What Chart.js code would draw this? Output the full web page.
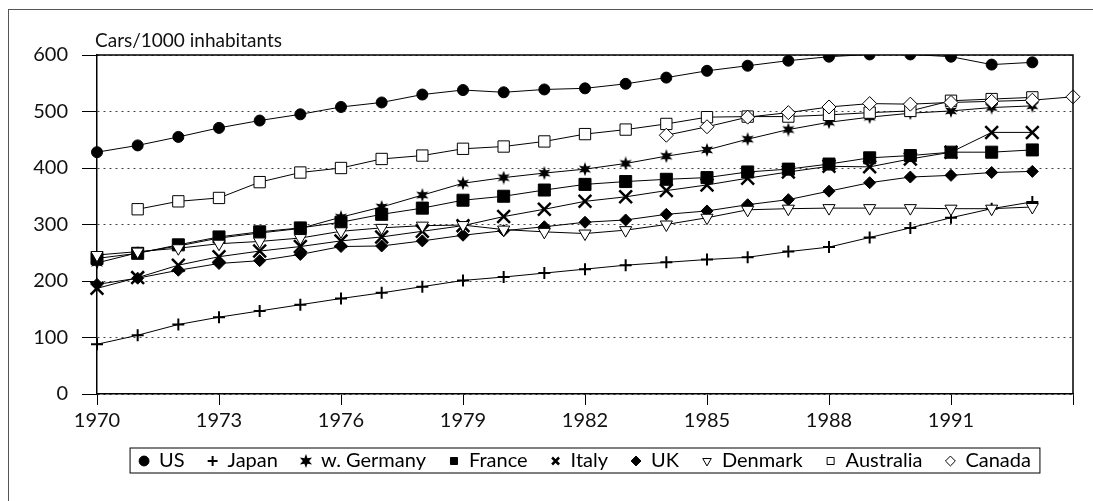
<!DOCTYPE html>
<html>
<head>
<meta charset="utf-8">
<script src="https://cdn.jsdelivr.net/npm/chart.js@4.4.0/dist/chart.umd.min.js"></script>
<style>
  html, body { margin: 0; padding: 0; background: #fff; overflow: hidden; }
  #frame {
    position: absolute; left: 8px; top: 9px; width: 2000px; height: 2000px;
    border-left: 1px solid #555; border-top: 1px solid #555;
  }
  #wrap { position: absolute; left: 0; top: 0; width: 1093px; height: 501px; }
</style>
</head>
<body>
<div id="frame"></div>
<div id="wrap"><canvas id="cars" width="1093" height="501"></canvas></div>
<script>
// cars per 1000 inhabitants, 1970 - 1994
const years = ['1970', '1971', '1972', '1973', '1974', '1975', '1976', '1977', '1978', '1979',
    '1980', '1981', '1982', '1983', '1984', '1985', '1986', '1987', '1988', '1989',
    '1990', '1991', '1992', '1993', '1994'];

const usCars = [428, 440, 455, 471, 484, 495, 508, 516, 530, 538, 534, 539, 541, 549, 560, 572, 581, 590, 597, 601, 601, 597, 583, 587, null];
const japanCars = [88, 104, 123, 136, 147, 158, 169, 179, 190, 201, 207, 214, 221, 228, 233, 238, 242, 252, 260, 277, 294, 312, 328, 340, null];
const germanyCars = [232, 250, 262, 276, 285, 293, 313, 331, 352, 373, 383, 391, 398, 408, 421, 432, 451, 468, 481, 490, 497, 501, 507, 510, null];
const franceCars = [240, 249, 264, 278, 287, 294, 304, 318, 329, 343, 350, 361, 371, 376, 380, 383, 393, 398, 407, 418, 422, 428, 428, 432, null];
const italyCars = [187, 206, 228, 243, 253, 261, 271, 278, 288, 298, 314, 327, 341, 349, 360, 370, 382, 393, 403, 402, 416, 428, 463, 463, null];
const ukCars = [194, 205, 219, 231, 236, 247, 261, 262, 271, 281, 289, 296, 304, 308, 318, 324, 335, 344, 359, 374, 384, 387, 392, 394, null];
const denmarkCars = [246, 252, 258, 266, 270, 276, 288, 294, 298, 299, 291, 287, 284, 290, 300, 312, 326, 328, 329, 329, 329, 328, 328, 331, null];
const australiaCars = [null, 327, 341, 347, 375, 392, 400, 416, 422, 434, 438, 447, 460, 468, 478, 490, 491, 491, 494, 498, 501, 519, 522, 525, null];
const canadaCars = [null, null, null, null, null, null, null, null, null, null, null, null, null, null,
    458, 473, 490, 498, 508, 514, 513, 516, 518, 520, 526];

const FONT = 'Lato, "Open Sans", sans-serif';

// filled six point star for w. Germany
function makeStar(size) {
    const c = document.createElement('canvas');
    c.width = size;
    c.height = size;
    const g = c.getContext('2d');
    const r = size / 2, ri = r * 0.45;
    g.beginPath();
    for (let i = 0; i < 12; i++) {
        const a = -Math.PI / 2 + i * Math.PI / 6;
        const rr = i % 2 ? ri : r;
        g.lineTo(r + rr * Math.cos(a), r + rr * Math.sin(a));
    }
    g.closePath();
    g.fillStyle = '#000';
    g.fill();
    return c;
}
const star = makeStar(14);

const series = [
    { label: 'US', data: usCars, style: 'circle', radius: 5.5, fill: '#000', bw: 1 },
    { label: 'Japan', data: japanCars, style: 'cross', radius: 6, fill: '#000', bw: 2 },
    { label: 'w. Germany', data: germanyCars, style: star, radius: 7, fill: '#000', bw: 1 },
    { label: 'France', data: franceCars, style: 'rect', radius: 8.5, fill: '#000', bw: 1 },
    { label: 'Italy', data: italyCars, style: 'crossRot', radius: 9, fill: '#000', bw: 2.5 },
    { label: 'UK', data: ukCars, style: 'rectRot', radius: 6, fill: '#000', bw: 1 },
    { label: 'Denmark', data: denmarkCars, style: 'triangle', radius: 7, fill: '#fff', bw: 1, rot: 180 },
    { label: 'Australia', data: australiaCars, style: 'rect', radius: 8, fill: '#fff', bw: 1 },
    { label: 'Canada', data: canadaCars, style: 'rectRot', radius: 7, fill: '#fff', bw: 1 }
];

const datasets = series.map((s, i) => ({
    label: s.label,
    data: s.data,
    borderColor: '#000',
    backgroundColor: s.fill,
    borderWidth: 1,
    tension: 0,
    pointStyle: s.style,
    pointRadius: s.radius,
    pointHoverRadius: s.radius,
    pointBackgroundColor: s.fill,
    pointBorderColor: '#000',
    pointBorderWidth: s.bw,
    pointRotation: s.rot || 0,
    order: -i   // later series drawn on top
}));

const decorPlugin = {
    id: 'decor',
    afterDraw(chart) {
        const ctx = chart.ctx;
        const a = chart.chartArea;
        ctx.save();
        // top and right frame of the plot
        ctx.strokeStyle = '#000';
        ctx.lineWidth = 1.5;
        ctx.beginPath();
        ctx.moveTo(a.left, a.top);
        ctx.lineTo(a.right, a.top);
        ctx.lineTo(a.right, a.bottom);
        ctx.stroke();

        // unit label
        ctx.fillStyle = '#111';
        ctx.font = '19px ' + FONT;
        ctx.textBaseline = 'alphabetic';
        ctx.fillText('Cars/1000 inhabitants', 95, 47);

        // box round the legend
        const boxes = chart.legend && chart.legend.legendHitBoxes;
        if (boxes && boxes.length) {
            const l = Math.min(...boxes.map(b => b.left)) - 9;
            const r = Math.max(...boxes.map(b => b.left + b.width)) + 9;
            const t = boxes[0].top - 3;
            const b = boxes[0].top + boxes[0].height + 2;
            ctx.lineWidth = 1;
            ctx.strokeRect(l, t, r - l, b - t);
        }
        ctx.restore();
    }
};

new Chart(document.getElementById('cars'), {
    type: 'line',
    data: { labels: years, datasets },
    plugins: [decorPlugin],
    options: {
        responsive: false,
        animation: false,
        events: [],
        layout: { padding: { left: 0, right: 20, top: 55, bottom: 20 } },
        plugins: {
            title: { display: false },
            tooltip: { enabled: false },
            legend: {
                position: 'bottom',
                fullSize: false,
                reverse: true,
                labels: {
                    usePointStyle: true,
                    boxWidth: 10,
                    boxHeight: 7,
                    padding: 23,
                    color: '#000',
                    font: { family: FONT, size: 20 }
                }
            }
        },
        scales: {
            x: {
                type: 'category',
                offset: false,
                grid: { drawOnChartArea: false, drawTicks: true, tickLength: 11, tickColor: '#000', tickWidth: 1 },
                border: { color: '#000', width: 1.5 },
                ticks: {
                    autoSkip: false,
                    maxRotation: 0,
                    padding: 4,
                    color: '#111',
                    font: { family: FONT, size: 20 },
                    callback: (v, i) => i % 3 ? null : (i === years.length - 1 ? '' : years[i])
                },
                afterFit: s => { s.height = 34; }
            },
            y: {
                min: 0,
                max: 600,
                ticks: { stepSize: 100, padding: 14, color: '#111', font: { family: FONT, size: 20 } },
                grid: { color: '#444', lineWidth: 1, tickLength: 15, tickColor: '#000', drawTicks: true },
                border: { color: '#000', width: 1.5, dash: [2, 4] },
                afterFit: s => { s.width = 97; }
            }
        }
    }
});
</script>
</body>
</html>
